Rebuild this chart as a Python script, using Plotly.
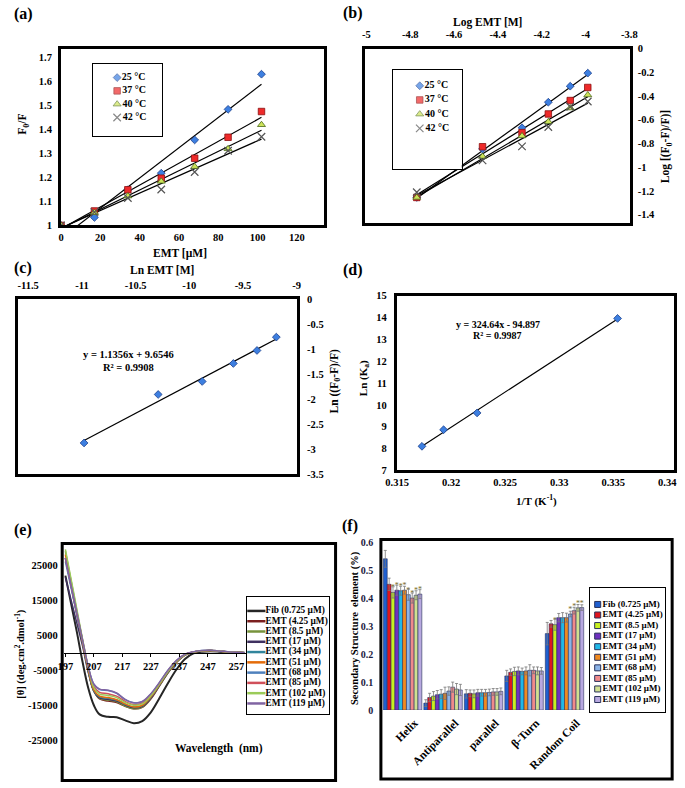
import numpy as np
import plotly.graph_objects as go

W, H = 685, 788
FONT = "Liberation Serif"

# ---------------- data ----------------
# (a) Stern-Volmer, F0/F vs EMT
emt_um = [0, 17, 34, 51, 68, 85, 102]
f0f_25 = [1.0, 1.033, 1.148, 1.217, 1.355, 1.482, 1.628]
f0f_37 = [1.0, 1.060, 1.148, 1.196, 1.279, 1.366, 1.473]
f0f_40 = [1.0, 1.053, 1.122, 1.183, 1.244, 1.318, 1.418]
f0f_42 = [1.0, 1.055, 1.114, 1.149, 1.222, 1.310, 1.368]
temp_labels = ["25 °C", "37 °C", "40 °C", "42 °C"]

# (b) double log plot
log_emt = [-4.77, -4.47, -4.29, -4.17, -4.07, -3.99]
logq_25 = [-1.254, -0.846, -0.667, -0.452, -0.317, -0.207]
logq_37 = [-1.254, -0.827, -0.708, -0.551, -0.438, -0.328]
logq_40 = [-1.254, -0.909, -0.736, -0.617, -0.501, -0.391]
logq_42 = [-1.21, -0.942, -0.824, -0.661, -0.49, -0.446]

# (c) ln plot, 25 °C
ln_emt = [-10.98, -10.29, -9.88, -9.59, -9.37, -9.19]
ln_q = [-2.88, -1.91, -1.65, -1.29, -1.03, -0.763]

# (d) van't Hoff
inv_t = [0.3173, 0.3193, 0.3224, 0.3354]
ln_ka = [8.10, 8.86, 9.63, 13.96]

# (e) CD spectra
wavelength = [197, 199, 201, 203, 205, 207, 209, 212, 215, 218, 221, 224,
              227, 230, 233, 236, 239, 242, 245, 248, 251, 254, 257, 260]
cd_fib = [22000, 14000, 6000, -2500, -10000, -15000, -17600, -18300, -18400, -19300, -20100, -19500,
          -17000, -13000, -8700, -4800, -1800, -200, 300, 400, 300, 150, 50, 0]
cd_4_25 = [27000, 19000, 11000, 3000, -5000, -11000, -13200, -13800, -14200, -15300, -16000, -15600,
           -13200, -9500, -5800, -2800, -700, 200, 500, 600, 450, 250, 100, 0]
cd_8_5 = [29000, 20500, 12000, 3500, -5000, -11000, -13000, -13500, -14000, -15200, -16000, -15500,
          -13000, -9400, -5700, -2700, -650, 200, 500, 600, 450, 250, 100, 0]
cd_17 = [21500, 15000, 8500, 2000, -5500, -11000, -12900, -13300, -13800, -14900, -15700, -15300,
         -12900, -9300, -5600, -2600, -600, 200, 500, 600, 450, 250, 100, 0]
cd_34 = [27000, 19000, 11000, 3000, -5000, -10800, -12600, -13000, -13500, -14700, -15500, -15100,
         -12700, -9200, -5500, -2600, -600, 200, 500, 600, 450, 250, 100, 0]
cd_51 = [28000, 19800, 11500, 3200, -4800, -10600, -12400, -12800, -13400, -14600, -15500, -15000,
         -12600, -9100, -5400, -2500, -600, 200, 500, 600, 450, 250, 100, 0]
cd_68 = [26000, 18500, 11000, 3500, -4000, -9000, -10500, -10800, -11600, -13400, -14300, -14000,
         -11800, -8600, -5100, -2300, -500, 200, 600, 700, 500, 250, 100, 0]
cd_85 = [27000, 19200, 11400, 3600, -4200, -9700, -11300, -11700, -12400, -13900, -14800, -14400,
         -12100, -8800, -5200, -2400, -500, 200, 550, 650, 480, 250, 100, 0]
cd_102 = [29500, 21000, 12500, 4000, -4000, -10000, -11800, -12200, -12800, -14200, -15000, -14600,
          -12300, -8900, -5300, -2400, -550, 200, 550, 650, 480, 250, 100, 0]
cd_119 = [27000, 19300, 11600, 3800, -3800, -9000, -10400, -10700, -11500, -13300, -14300, -13900,
          -11700, -8500, -5000, -2200, -450, 250, 600, 700, 500, 250, 100, 0]

sample_labels = ["Fib (0.725 µM)", "EMT (4.25 µM)", "EMT (8.5 µM)", "EMT (17 µM)", "EMT (34 µM)",
                 "EMT (51 µM)", "EMT (68 µM)", "EMT (85 µM)", "EMT (102 µM)", "EMT (119 µM)"]

# (f) secondary structure fractions
structures = ["Helix", "Antiparallel", "parallel", "β-Turn", "Random Coil"]
ss_fib = [0.540, 0.025, 0.058, 0.122, 0.273]
ss_4_25 = [0.449, 0.045, 0.060, 0.135, 0.308]
ss_8_5 = [0.420, 0.050, 0.058, 0.138, 0.305]
ss_17 = [0.428, 0.055, 0.062, 0.140, 0.330]
ss_34 = [0.426, 0.057, 0.062, 0.138, 0.330]
ss_51 = [0.428, 0.060, 0.062, 0.140, 0.330]
ss_68 = [0.412, 0.068, 0.063, 0.142, 0.343]
ss_85 = [0.400, 0.082, 0.065, 0.142, 0.355]
ss_102 = [0.410, 0.075, 0.065, 0.140, 0.365]
ss_119 = [0.414, 0.072, 0.067, 0.140, 0.366]
err_fib = [0.030, 0.012, 0.015, 0.020, 0.040]
err_4_25 = [0.022, 0.015, 0.012, 0.012, 0.012]
err_8_5 = [0.020, 0.016, 0.014, 0.015, 0.020]
err_17 = [0.018, 0.015, 0.012, 0.014, 0.015]
err_34 = [0.016, 0.016, 0.012, 0.012, 0.018]
err_51 = [0.014, 0.022, 0.012, 0.014, 0.016]
err_68 = [0.020, 0.015, 0.012, 0.020, 0.010]
err_85 = [0.018, 0.018, 0.012, 0.012, 0.012]
err_102 = [0.016, 0.020, 0.012, 0.014, 0.012]
err_119 = [0.016, 0.020, 0.012, 0.012, 0.010]
# significance marks shown above the bars
sig_fib = ["", "", "", "", ""]
sig_4_25 = ["", "", "", "", ""]
sig_8_5 = ["*", "", "", "", "*"]
sig_17 = ["*", "", "", "", ""]
sig_34 = ["*", "", "", "", ""]
sig_51 = ["*", "", "", "", ""]
sig_68 = ["*", "", "", "", "*"]
sig_85 = ["*", "", "", "", "*"]
sig_102 = ["*", "", "", "", "*"]
sig_119 = ["*", "", "", "", "*"]

# tick labels
a_xticks = [0, 20, 40, 60, 80, 100, 120]
a_yticks = [1, 1.1, 1.2, 1.3, 1.4, 1.5, 1.6, 1.7]
b_xticks = [-5, -4.8, -4.6, -4.4, -4.2, -4, -3.8]
b_yticks = [0, -0.2, -0.4, -0.6, -0.8, -1, -1.2, -1.4]
c_xticks = [-11.5, -11, -10.5, -10, -9.5, -9]
c_yticks = [0, -0.5, -1, -1.5, -2, -2.5, -3, -3.5]
d_xticks = [0.315, 0.32, 0.325, 0.33, 0.335, 0.34]
d_yticks = [7, 8, 9, 10, 11, 12, 13, 14, 15]
e_xticks = [197, 207, 217, 227, 237, 247, 257]
e_yticks = [25000, 15000, 5000, -5000, -15000, -25000]
f_yticks = [0, 0.1, 0.2, 0.3, 0.4, 0.5, 0.6]

# ---------------- styles ----------------
temp_symbols = ["diamond", "square", "triangle-up", "x-thin-open"]
temp_fill = ["#3d7fe0", "#ee2a2a", "#cde35a", "#555555"]
temp_edge = ["#1c3f8c", "#8a1010", "#4a6a1a", "#555555"]
temp_size = [6, 6.5, 7, 7.5]
temp_edge_w = [0.8, 0.8, 0.8, 1.2]

cd_colors = ["#262626", "#7b1f1f", "#77933c", "#3f3160", "#31859c",
             "#e46c0a", "#4f81bd", "#d0505a", "#9bcb59", "#8064a2"]
bar_colors = ["#1f5fd0", "#e0141e", "#c8f020", "#7030c0", "#20b8e8",
              "#f08a20", "#8cb4e8", "#f08a8a", "#d0e090", "#b8a8e0"]

TICK_FONT = dict(family=FONT, size=10.5, color="black", weight="bold")


def xdom(a, b):
    return [a / W, b / W]


def ydom(top, bottom):
    return [1 - bottom / H, 1 - top / H]


def span(v1, p1, v2, p2, lo, hi):
    # data values at pixel lo..hi from two tick calibrations
    s = (v2 - v1) / (p2 - p1)
    return [v1 + (lo - p1) * s, v1 + (hi - p1) * s]


def fit_line(x, y):
    k, b = np.polyfit(x, y, 1)
    xs = [min(x), max(x)]
    return xs, [k * v + b for v in xs]


def frame_axis(dom, rng, ticks, side, standoff, anchor):
    # keep the edge ticks inside the range so their labels are drawn
    rng = [min(rng[0], min(ticks)), max(rng[1], max(ticks))]
    return dict(domain=dom, range=rng, side=side, anchor=anchor,
                tickmode="array", tickvals=ticks, ticktext=[f"{t:g}" for t in ticks],
                showgrid=False, zeroline=False, showline=True, mirror=True,
                linecolor="black", linewidth=3, ticks="", tickfont=TICK_FONT,
                ticklabelstandoff=standoff, ticklabeloverflow="allow")


def box_axis(dom, rng, anchor):
    return dict(domain=dom, range=rng, anchor=anchor, showgrid=False, zeroline=False,
                showticklabels=False, ticks="", showline=True, mirror=True,
                linecolor="black", linewidth=1.2)


fig = go.Figure()

# ---------------- (a) ----------------
a_sets = [f0f_25, f0f_37, f0f_40, f0f_42]
for vals in a_sets:
    lx, ly = fit_line(emt_um, vals)
    fig.add_trace(go.Scatter(x=lx, y=ly, mode="lines", line=dict(color="black", width=1.2),
                             xaxis="x", yaxis="y"))
for i, vals in enumerate(a_sets):
    fig.add_trace(go.Scatter(x=emt_um, y=vals, mode="markers", xaxis="x", yaxis="y",
                             marker=dict(symbol=temp_symbols[i], size=temp_size[i], color=temp_fill[i],
                                         line=dict(color=temp_edge[i], width=temp_edge_w[i]))))

# ---------------- (b) ----------------
b_sets = [logq_25, logq_37, logq_40, logq_42]
for vals in b_sets:
    lx, ly = fit_line(log_emt, vals)
    fig.add_trace(go.Scatter(x=lx, y=ly, mode="lines", line=dict(color="black", width=1.2),
                             xaxis="x2", yaxis="y2"))
for i, vals in enumerate(b_sets):
    fig.add_trace(go.Scatter(x=log_emt, y=vals, mode="markers", xaxis="x2", yaxis="y2",
                             marker=dict(symbol=temp_symbols[i], size=temp_size[i], color=temp_fill[i],
                                         line=dict(color=temp_edge[i], width=temp_edge_w[i]))))

# ---------------- (c) ----------------
lx, ly = fit_line(ln_emt, ln_q)
fig.add_trace(go.Scatter(x=lx, y=ly, mode="lines", line=dict(color="black", width=1.2),
                         xaxis="x3", yaxis="y3"))
fig.add_trace(go.Scatter(x=ln_emt, y=ln_q, mode="markers", xaxis="x3", yaxis="y3",
                         marker=dict(symbol="diamond", size=6, color=temp_fill[0],
                                     line=dict(color=temp_edge[0], width=0.8))))

# ---------------- (d) ----------------
lx, ly = fit_line(inv_t, ln_ka)
fig.add_trace(go.Scatter(x=lx, y=ly, mode="lines", line=dict(color="black", width=1.2),
                         xaxis="x4", yaxis="y4"))
fig.add_trace(go.Scatter(x=inv_t, y=ln_ka, mode="markers", xaxis="x4", yaxis="y4",
                         marker=dict(symbol="diamond", size=6, color=temp_fill[0],
                                     line=dict(color=temp_edge[0], width=0.8))))

# ---------------- (e) ----------------
cd_sets = [cd_fib, cd_4_25, cd_8_5, cd_17, cd_34, cd_51, cd_68, cd_85, cd_102, cd_119]
for i, vals in enumerate(cd_sets):
    fig.add_trace(go.Scatter(x=wavelength, y=vals, mode="lines", xaxis="x5", yaxis="y5",
                             line=dict(color=cd_colors[i], width=2 if i == 0 else 1.5, shape="spline")))

# ---------------- (f) ----------------
ss_sets = [ss_fib, ss_4_25, ss_8_5, ss_17, ss_34, ss_51, ss_68, ss_85, ss_102, ss_119]
err_sets = [err_fib, err_4_25, err_8_5, err_17, err_34, err_51, err_68, err_85, err_102, err_119]
sig_sets = [sig_fib, sig_4_25, sig_8_5, sig_17, sig_34, sig_51, sig_68, sig_85, sig_102, sig_119]
for i, vals in enumerate(ss_sets):
    fig.add_trace(go.Bar(x=structures, y=vals, xaxis="x6", yaxis="y6",
                         marker=dict(color=bar_colors[i], line=dict(color="#28305a", width=0.6)),
                         error_y=dict(type="data", array=err_sets[i], color="#777777",
                                      thickness=0.8, width=1.5),
                         text=sig_sets[i], textposition="outside", constraintext="none",
                         cliponaxis=False, textfont=dict(family=FONT, size=8, color="#7a6a2a")))

# ---------------- hand-made legends ----------------
fig.add_trace(go.Scatter(x=[0] * 4, y=list(range(4)), mode="markers+text", text=temp_labels,
                         textposition="middle right", cliponaxis=False, xaxis="x7", yaxis="y7",
                         textfont=dict(family=FONT, size=10, color="black", weight="bold"),
                         marker=dict(symbol=temp_symbols, size=temp_size, color=temp_fill,
                                     line=dict(color=temp_edge, width=temp_edge_w))))
fig.add_trace(go.Scatter(x=[0] * 4, y=list(range(4)), mode="markers+text", text=temp_labels,
                         textposition="middle right", cliponaxis=False, xaxis="x8", yaxis="y8",
                         textfont=dict(family=FONT, size=10, color="black", weight="bold"),
                         marker=dict(symbol=temp_symbols, size=temp_size, color=temp_fill,
                                     line=dict(color=temp_edge, width=temp_edge_w))))
fig.add_trace(go.Scatter(x=[0] * 10, y=list(range(10)), mode="markers+text", text=sample_labels,
                         textposition="middle right", cliponaxis=False, xaxis="x9", yaxis="y9",
                         textfont=dict(family=FONT, size=9.3, color="black", weight="bold"),
                         marker=dict(symbol="line-ew-open", size=13, color=cd_colors,
                                     line=dict(color=cd_colors, width=2.5))))
fig.add_trace(go.Scatter(x=[0] * 10, y=list(range(10)), mode="markers+text", text=sample_labels,
                         textposition="middle right", cliponaxis=False, xaxis="x10", yaxis="y10",
                         textfont=dict(family=FONT, size=9, color="black", weight="bold"),
                         marker=dict(symbol="square", size=6, color=bar_colors,
                                     line=dict(color="#28305a", width=1))))

# ---------------- axes ----------------
e_dom_y = ydom(547.3, 785)
e_range_y = span(25000, 567.7, -25000, 745.7, 785, 547.3)
e_zero = e_dom_y[0] + (0 - e_range_y[0]) / (e_range_y[1] - e_range_y[0]) * (e_dom_y[1] - e_dom_y[0])

layout_axes = dict(
    xaxis=frame_axis(xdom(50.5, 321.8), span(0, 49.3, 120, 293.3, 50.5, 321.8), a_xticks, "bottom", 0, "y"),
    yaxis=frame_axis(ydom(43.5, 222.8), span(1, 224, 1.7, 51.7, 222.8, 43.5), a_yticks, "left", 4, "x"),
    xaxis2=frame_axis(xdom(363.2, 636.2), span(-5, 365, -3.8, 636, 363.2, 636.2), b_xticks, "top", 3, "y2"),
    yaxis2=frame_axis(ydom(43.2, 220.2), span(0, 42.7, -1.4, 212, 220.2, 43.2), b_yticks, "right", 3, "x2"),
    xaxis3=frame_axis(xdom(6.5, 293.5), span(-11.5, 16.7, -9, 293.3, 6.5, 293.5), c_xticks, "top", 3, "y3"),
    yaxis3=frame_axis(ydom(297.5, 475.2), span(0, 296.7, -3.5, 475.7, 475.2, 297.5), c_yticks, "right", 5, "x3"),
    xaxis4=frame_axis(xdom(396.5, 681.8), span(0.315, 396.7, 0.34, 675, 396.5, 681.8), d_xticks, "bottom", 0, "y4"),
    yaxis4=frame_axis(ydom(294.2, 471.5), span(15, 292.7, 7, 472.3, 471.5, 294.2), d_yticks, "left", 5, "x4"),
    xaxis5=dict(domain=xdom(53.2, 241.5), range=span(197, 55, 257, 231, 53.2, 241.5), anchor="free",
                position=e_zero, tickmode="array", tickvals=e_xticks, ticktext=[str(t) for t in e_xticks],
                showgrid=False, zeroline=False, showline=True, linecolor="black", linewidth=1,
                ticks="outside", ticklen=3, tickcolor="black", tickfont=TICK_FONT, ticklabelstandoff=1,
                ticklabeloverflow="allow"),
    yaxis5=dict(domain=e_dom_y, range=e_range_y, anchor="x5", tickmode="array", tickvals=e_yticks,
                ticktext=[f"{t:g}" for t in e_yticks], showgrid=False, zeroline=False, showline=False,
                ticks="", tickfont=TICK_FONT, ticklabelstandoff=5, ticklabeloverflow="allow"),
    xaxis6=dict(domain=xdom(381.5, 590), anchor="y6", showgrid=False, zeroline=False, showline=False,
                ticks="", tickangle=-45, ticklabelstandoff=3, ticklabelshift=12,
                tickfont=dict(family=FONT, size=11.5, color="black", weight="bold")),
    yaxis6=dict(domain=ydom(544.3, 715), range=[0, 0.6], anchor="x6", tickmode="array", tickvals=f_yticks,
                ticktext=[f"{t:g}" for t in f_yticks], showgrid=False, zeroline=False, showline=False,
                ticks="", tickfont=dict(family=FONT, size=10, color="#1a1a40", weight="bold"),
                ticklabelstandoff=8, ticklabeloverflow="allow"),
    xaxis7=box_axis(xdom(83, 155), [-25.3, 46.7], "y7"),
    yaxis7=box_axis(ydom(59.3, 131.7), [4.37, -0.99], "x7"),
    xaxis8=box_axis(xdom(392.7, 463.3), [-27.3, 43.3], "y8"),
    yaxis8=box_axis(ydom(65, 165.7), [5.88, -1.11], "x8"),
    xaxis9=box_axis(xdom(241.7, 326.7), [-10, 75], "y9"),
    yaxis9=box_axis(ydom(600, 719), [10.03, -1.37], "x9"),
    xaxis10=box_axis(xdom(595, 673), [-8.3, 69.7], "y10"),
    yaxis10=box_axis(ydom(591, 716.7), [10.16, -1.556], "x10"),
)


def note(text, x, y, size, angle=0):
    return dict(text=text, x=x / W, y=1 - y / H, xref="paper", yref="paper", showarrow=False,
                xanchor="center", yanchor="middle", textangle=angle,
                font=dict(family=FONT, size=size, color="black", weight="bold"))


annotations = [
    note("(a)", 12, 8, 16), note("(b)", 351, 7, 16), note("(c)", 11, 266.5, 16),
    note("(d)", 351, 268.5, 16), note("(e)", 11, 532, 16), note("(f)", 348, 528.5, 16),
    note("EMT [µM]", 173, 251, 11.5),
    note("F<sub>0</sub>/F", 12, 120, 11.5, -90),
    note("Log EMT [M]", 490, 17, 11.5),
    note("Log [(F<sub>0</sub>-F)/F)]", 674, 143, 11.5, -90),
    note("Ln EMT [M]", 154, 268, 11.5),
    note("Ln ((F<sub>0</sub>-F)/F)", 333, 381, 11.5, -90),
    note("y = 1.1356x + 9.6546", 120.5, 354.3, 10.5),
    note("R² = 0.9908", 120, 366.7, 10.5),
    note("y = 324.64x - 94.897", 501, 323.3, 10),
    note("R² = 0.9987", 500, 335, 10),
    note("1/T (K<sup>-1</sup>)", 540, 502, 11),
    note("Ln (K<sub>a</sub>)", 362.5, 378, 11, -90),
    note("Wavelength  (nm)", 213, 754, 11.5),
    note("[θ] (deg.cm<sup>2</sup>.dmol<sup>-1</sup>)", 8, 658, 10.5, -90),
    note("Secondary Structure  element (%)", 354, 632, 10.5, -90),
]

shapes = [
    dict(type="rect", xref="paper", yref="paper", x0=51.7 / W, x1=333.3 / W, y0=1 - 786.5 / H, y1=1 - 545.8 / H,
         line=dict(color="black", width=3)),
    dict(type="rect", xref="paper", yref="paper", x0=380 / W, x1=680 / W, y0=1 - 785 / H, y1=1 - 541.7 / H,
         line=dict(color="black", width=3)),
]

fig.update_layout(
    width=W, height=H, margin=dict(l=0, r=0, t=0, b=0),
    paper_bgcolor="white", plot_bgcolor="white", showlegend=False,
    barmode="group", bargap=0.05, bargroupgap=0,
    annotations=annotations, shapes=shapes,
    **layout_axes,
)

# the page body has a default margin; drop it so the figure sits at the window corner
fig.write_html("out.html", config={"displayModeBar": False},
               post_script="document.body.style.margin='0';")
